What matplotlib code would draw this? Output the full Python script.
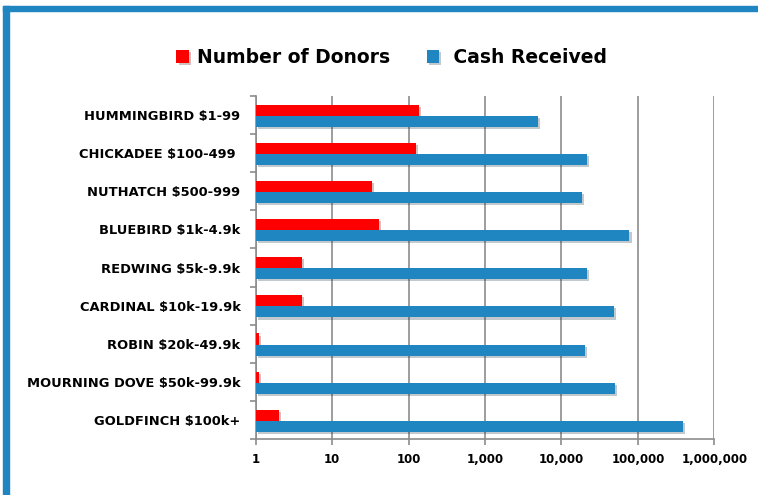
import matplotlib
matplotlib.use('Agg')
import matplotlib.pyplot as plt
import matplotlib.patheffects as pe
from matplotlib.patches import Rectangle
from matplotlib.ticker import FixedLocator, NullLocator
import numpy as np

plt.rcParams['font.family'] = ['DejaVu Sans']

categories = ['HUMMINGBIRD $1-99', 'CHICKADEE $100-499 ', 'NUTHATCH $500-999',
              'BLUEBIRD $1k-4.9k', 'REDWING $5k-9.9k', 'CARDINAL $10k-19.9k',
              'ROBIN $20k-49.9k', 'MOURNING DOVE $50k-99.9k', 'GOLDFINCH $100k+']
donors = [138, 124, 33, 41, 4, 4, 1.1, 1.1, 2]
cash = [4900, 21700, 18300, 77600, 21700, 48000, 20200, 50400, 392000]
xticks = [1, 10, 100, 1000, 10000, 100000, 1000000]
xlabels = ['1', '10', '100', '1,000', '10,000', '100,000', '1,000,000']

RED = '#FF0000'
BLUE = '#1F86C2'
GRID = '#8C8C8C'

fig = plt.figure(figsize=(7.58, 4.95), dpi=100)
ax = fig.add_axes([0.3373, 0.1131, 0.6051, 0.6929])

y = np.arange(len(categories))
h = 0.29
base = 1  # bars start at the left edge of the log axis
shadow = [pe.SimplePatchShadow(offset=(1.5, -1.5), alpha=0.25), pe.Normal()]
b1 = ax.barh(y - h / 2 + 0.02, np.array(donors) - base, height=h, left=base,
             color=RED, label='Number of Donors', zorder=3)
b2 = ax.barh(y + h / 2 + 0.02, np.array(cash) - base, height=h, left=base,
             color=BLUE, label=' Cash Received', zorder=3)
for b in list(b1) + list(b2):
    b.set_path_effects(shadow)

ax.set_xscale('log')
ax.set_xlim(1, 1000000)
ax.set_ylim(len(categories) - 0.5, -0.5)
ax.xaxis.set_major_locator(FixedLocator(xticks))
ax.xaxis.set_minor_locator(NullLocator())
ax.set_xticklabels(xlabels, fontsize=8.5, fontweight='bold')
ax.grid(axis='x', color=GRID, linewidth=1.2, zorder=0)

ax.set_yticks(y)
ax.set_yticklabels(categories, fontsize=9.4, fontweight='bold')
ax.yaxis.set_minor_locator(FixedLocator(np.arange(-0.5, len(categories), 1)))
ax.tick_params(axis='y', which='major', length=0, pad=11)
ax.tick_params(axis='y', which='minor', length=4, color=GRID, width=1.2)
ax.tick_params(axis='x', length=4, color=GRID, width=1.2, pad=6)

for s in ['top', 'right']:
    ax.spines[s].set_visible(False)
for s in ['left', 'bottom']:
    ax.spines[s].set_color(GRID)
    ax.spines[s].set_linewidth(1.2)

leg = fig.legend(handles=[b1, b2], loc='center', bbox_to_anchor=(0.517, 0.884),
                 ncol=2, frameon=False, handlelength=0.65,
                 handleheight=0.75, handletextpad=0.45, columnspacing=1.95,
                 prop={'weight': 'bold', 'size': 13.5})

# blue frame on the left and top
fig.patches.append(Rectangle((3 / 758, 0), 6 / 758, 1 - 6 / 495,
                             transform=fig.transFigure, color=BLUE, zorder=5))
fig.patches.append(Rectangle((3 / 758, 1 - 11 / 495), 1, 5 / 495,
                             transform=fig.transFigure, color=BLUE, zorder=5))

fig.savefig('out.png', dpi=100)
